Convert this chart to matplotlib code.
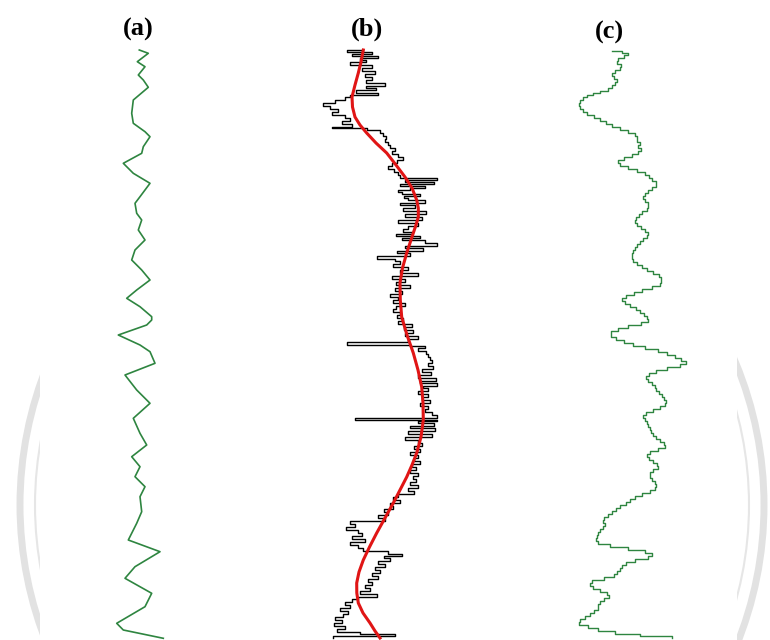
import numpy as np
import matplotlib
matplotlib.use('Agg')
import matplotlib.pyplot as plt
from matplotlib.patches import Circle, Rectangle

# panel (a): smooth green log, depth / value
a_depth = [50, 53.3, 61.7, 66.7, 75, 80, 87.3, 100, 113.3, 123.3, 131.7, 136.7, 146.7, 153.3,
           163.3, 173.3, 183.3, 196.7, 203.3, 213.3, 220, 230, 240, 250, 260, 270, 280, 290,
           298.3, 306.7, 316.7, 320, 325, 335, 345, 351.7, 363.3, 375, 390, 403.3, 418.3,
           433.3, 445, 456.7, 466.7, 476.7, 486.7, 496.7, 511.7, 523.3, 540, 551.7, 566.7,
           578.3, 593.3, 606.7, 623.3, 630, 638.3]
a_value = [139.3, 148.3, 137.3, 145, 138.3, 143.3, 148.3, 133.3, 131.7, 133.3, 145, 150, 143.3,
           141.7, 123.3, 133.3, 150, 140, 135, 136.7, 141.7, 138.3, 145, 135, 131.7, 141.7, 150,
           136.7, 126.7, 140, 151.7, 151.7, 146.7, 118.3, 140, 150, 155, 125, 136.7, 150, 133.3,
           140, 146.7, 131.7, 140, 135, 145, 140, 141.7, 136.7, 128.3, 160, 135, 125, 151.7,
           145, 116.7, 123.3, 163.3]

# panel (b): raw stepped log (black) and smooth trend (red)
b_depth = [50, 52, 54, 56, 58, 60, 62, 65, 68, 71, 74, 77, 80, 83, 86, 88, 90, 93, 95, 97, 100,
           103, 106, 109, 112, 115, 118, 121, 124, 127, 128, 130, 133, 136, 139, 142, 145, 148,
           151, 154, 157, 160, 163, 166, 169, 172, 175, 178, 180, 182, 184, 186, 188, 190, 192,
           194, 196, 198, 200, 203, 205, 208, 211, 214, 217, 220, 223, 226, 229, 232, 234, 236,
           238, 240, 243, 246, 248, 251, 253, 256, 259, 261, 264, 267, 270, 273, 276, 279, 282,
           285, 288, 291, 294, 297, 300, 303, 306, 309, 312, 315, 318, 321, 324, 327, 330, 333,
           336, 339, 342, 345, 346, 348, 351, 354, 357, 360, 363, 366, 369, 372, 375, 378, 381,
           383, 386, 388, 391, 394, 397, 400, 403, 406, 409, 412, 415, 418, 420, 421, 423, 426,
           428, 431, 434, 437, 440, 443, 446, 449, 452, 455, 458, 461, 464, 467, 470, 473, 476,
           479, 482, 485, 488, 491, 494, 497, 500, 503, 506, 509, 512, 515, 518, 521, 524, 527,
           530, 533, 536, 539, 542, 545, 548, 551, 554, 556, 558, 561, 564, 567, 570, 573, 576,
           579, 582, 585, 588, 591, 594, 597, 599, 602, 605, 608, 611, 614, 617, 620, 623, 626,
           629, 632, 634, 636, 638]
b_value = [363, 347, 372, 352, 378, 360, 366, 350, 372, 362, 375, 365, 372, 366, 385, 366, 376,
           356, 378, 350, 345, 335, 323, 330, 338, 332, 345, 350, 342, 352, 332, 367, 380, 383,
           386, 385, 388, 390, 395, 392, 398, 403, 397, 392, 388, 394, 398, 400, 437, 405, 434,
           400, 425, 410, 398, 402, 420, 404, 408, 425, 400, 415, 403, 426, 405, 422, 398, 418,
           408, 403, 412, 396, 420, 402, 425, 437, 405, 423, 397, 410, 377, 395, 400, 393, 408,
           400, 418, 392, 405, 396, 410, 395, 402, 390, 398, 393, 405, 396, 393, 400, 397, 403,
           398, 412, 404, 413, 405, 418, 408, 347, 410, 425, 418, 426, 428, 430, 432, 428, 433,
           422, 431, 418, 436, 420, 437, 423, 428, 418, 428, 422, 430, 420, 428, 425, 432, 437,
           355, 437, 418, 434, 410, 435, 408, 432, 405, 418, 422, 414, 420, 410, 418, 414, 420,
           412, 416, 410, 418, 413, 416, 410, 418, 408, 414, 398, 393, 400, 390, 393, 384, 388,
           378, 385, 350, 355, 346, 358, 362, 352, 365, 350, 358, 363, 388, 402, 384, 390, 378,
           385, 375, 380, 372, 378, 368, 372, 365, 370, 360, 377, 358, 352, 345, 350, 340, 348,
           343, 335, 342, 334, 345, 337, 360, 395, 333]
trend_depth = [50, 62, 73, 85, 97, 107, 117, 125, 133, 143, 153, 165, 177, 188, 200, 208, 217,
               225, 233, 243, 253, 268, 283, 300, 317, 335, 353, 370, 387, 403, 420, 437, 453,
               465, 477, 490, 503, 518, 533, 547, 560, 572, 583, 593, 603, 613, 623, 631, 638]
trend_value = [363.3, 361, 358.3, 355, 352, 352.5, 355, 360, 366.7, 376, 386.7, 396, 405, 412,
               416.7, 418.3, 418.3, 416, 413.3, 410, 406.7, 402.5, 400, 400.3, 401.7, 407, 413.3,
               418, 421.7, 423, 423.3, 421, 416.7, 412, 406.7, 400, 393.3, 385, 376.7, 369.5,
               363.3, 359, 356.7, 356.8, 358.3, 363, 370, 375, 380]

# panel (c): blocky green log
c_depth = [51, 53, 55, 58, 61, 64, 67, 70, 73, 76, 79, 82, 85, 88, 91, 93, 95, 97, 100, 103,
           106, 109, 112, 115, 118, 121, 124, 127, 130, 133, 136, 139, 142, 145, 148, 151, 154,
           157, 160, 163, 166, 169, 172, 175, 178, 181, 184, 187, 190, 193, 196, 199, 202, 205,
           208, 211, 214, 217, 220, 223, 226, 229, 232, 235, 238, 241, 244, 247, 250, 253, 256,
           259, 262, 265, 268, 271, 274, 277, 280, 283, 286, 289, 292, 295, 298, 301, 304, 307,
           310, 313, 316, 319, 322, 325, 328, 331, 334, 337, 340, 343, 346, 349, 352, 355, 358,
           361, 364, 367, 370, 373, 376, 379, 382, 385, 388, 391, 394, 397, 400, 403, 406, 409,
           412, 415, 418, 421, 424, 427, 430, 433, 436, 439, 442, 445, 448, 451, 454, 457, 460,
           463, 466, 469, 472, 475, 478, 481, 484, 487, 490, 493, 496, 499, 502, 505, 508, 511,
           514, 517, 520, 523, 526, 529, 532, 535, 538, 541, 544, 547, 550, 553, 556, 559, 562,
           565, 568, 571, 574, 577, 580, 583, 586, 589, 592, 595, 598, 601, 604, 607, 610, 613,
           616, 619, 622, 625, 628, 631, 634, 636, 638]
c_value = [612, 622, 628, 624, 618, 617, 621, 620, 615, 612, 614, 617, 615, 612, 608, 600, 593,
           587, 583, 580, 579, 580, 583, 587, 594, 600, 606, 612, 620, 628, 635, 637, 637, 640,
           638, 641, 638, 632, 624, 618, 620, 628, 637, 645, 649, 652, 656, 656, 652, 648, 645,
           643, 645, 648, 648, 647, 642, 639, 636, 635, 637, 641, 645, 648, 647, 643, 640, 637,
           635, 633, 632, 632, 633, 637, 642, 647, 653, 659, 661, 661, 660, 652, 642, 634, 626,
           622, 625, 630, 636, 640, 644, 647, 648, 641, 628, 618, 611, 611, 616, 624, 633, 645,
           658, 667, 675, 681, 686, 680, 667, 656, 649, 646, 648, 652, 655, 656, 659, 662, 664,
           666, 665, 660, 653, 646, 643, 645, 647, 648, 650, 651, 653, 656, 660, 664, 665, 658,
           650, 647, 649, 653, 657, 658, 653, 650, 650, 652, 655, 656, 655, 650, 642, 635, 630,
           626, 620, 616, 612, 608, 604, 603, 605, 603, 600, 598, 597, 596, 598, 610, 628, 645,
           652, 648, 635, 626, 622, 620, 617, 614, 604, 592, 590, 593, 600, 607, 609, 604, 600,
           598, 598, 594, 590, 585, 580, 579, 588, 598, 615, 640, 672]

labels = ['(a)', '(b)', '(c)']
label_x = [138, 367, 609]
label_y = [29, 29, 32]

W, H = 770, 640
fig = plt.figure(figsize=(7.7, 6.4), dpi=100)

# background with faint watermark rings
bg = fig.add_axes([0, 0, 1, 1])
bg.set_xlim(0, W)
bg.set_ylim(H, 0)
bg.axis('off')
bg.add_patch(Circle((392, 505), 372, fill=False, lw=5, ec='#e2e2e2'))
bg.add_patch(Circle((392, 505), 357, fill=False, lw=1.5, ec='#e6e6e6'))
bg.add_patch(Rectangle((40, 0), 697, H, fc='white', ec='none'))
for t, x, y in zip(labels, label_x, label_y):
    bg.text(x, y, t, ha='center', va='center', fontsize=19, fontweight='bold',
            family='Liberation Serif')


def track(x0, x1):
    ax = fig.add_axes([x0 / W, 0, (x1 - x0) / W, 1])
    ax.set_xlim(x0, x1)
    ax.set_ylim(H, 0)
    ax.axis('off')
    ax.patch.set_alpha(0)
    return ax


ax1 = track(100, 180)
ax1.plot(a_value, a_depth, color='#2e8540', lw=1.2, solid_joinstyle='round')

ax2 = track(310, 450)
ax2.plot(b_value, b_depth, color='black', lw=1.0, drawstyle='steps-post')
ax2.plot(trend_value, trend_depth, color='#e01515', lw=2.2, solid_joinstyle='round')

ax3 = track(570, 700)
ax3.plot(c_value, c_depth, color='#2e8540', lw=1.0, drawstyle='steps-post')

fig.savefig('out.png', dpi=100)
